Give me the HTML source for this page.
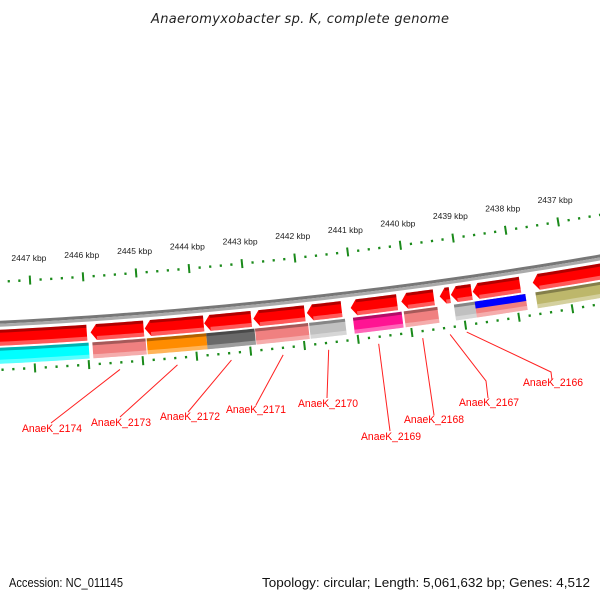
<!DOCTYPE html>
<html><head><meta charset="utf-8"><style>
html,body{margin:0;padding:0;background:#fff;}
svg{display:block;font-family:"Liberation Sans","DejaVu Sans",sans-serif;}
</style></head><body>
<svg id="map" width="600" height="600" viewBox="0 0 600 600" xmlns="http://www.w3.org/2000/svg">
<rect width="600" height="600" fill="#fff"/>
<text x="300" y="23" text-anchor="middle" font-size="13" font-style="italic" fill="#222" textLength="298" lengthAdjust="spacing" font-family="DejaVu Sans, sans-serif">Anaeromyxobacter sp. K, complete genome</text>
<g id="rulers"></g>
<g id="backbone"></g>
<g id="row1"></g>
<g id="row2"></g>
<g id="labels"></g>
<text x="9" y="587" font-size="13" fill="#111" textLength="114" lengthAdjust="spacingAndGlyphs">Accession: NC_011145</text>
<text x="590" y="587" font-size="13" fill="#111" text-anchor="end" textLength="328" lengthAdjust="spacingAndGlyphs">Topology: circular; Length: 5,061,632 bp; Genes: 4,512</text>
</svg>
<script>
// ---- data (kbp) ----
const tickStartKbp = 2448;
const tickEndKbp = 2436;
const tickLabels = ["2447 kbp","2446 kbp","2445 kbp","2444 kbp","2443 kbp","2442 kbp","2441 kbp","2440 kbp","2439 kbp","2438 kbp","2437 kbp"];
const tickLabelKbp = [2447,2446,2445,2444,2443,2442,2441,2440,2439,2438,2437];
const row1Start = [2448.5,2445.93,2444.92,2443.81,2442.89,2441.89,2441.07,2440.12,2439.40,2439.19,2438.78,2437.65];
const row1End   = [2446.00,2444.94,2443.82,2442.93,2441.93,2441.24,2440.20,2439.51,2439.21,2438.80,2437.89,2435.5];
const row1Arrow = [0,1,1,1,1,1,1,1,1,1,1,1];
const row2Start = [2448.5,2445.91,2444.90,2443.79,2442.88,2441.87,2441.05,2440.10,2439.16,2438.77,2437.63];
const row2End   = [2445.98,2444.92,2443.79,2442.89,2441.89,2441.20,2440.14,2439.47,2438.77,2437.82,2435.5];
const row2Color = ["#00ffff","#f08080","#ff8c00","#696969","#f08080","#c0c0c0","#ff1493","#f08080","#c0c0c0","#f08080","#bdb76b"];
const blueStart = [2438.77];
const blueEnd = [2437.82];
const geneNames = ["AnaeK_2174","AnaeK_2173","AnaeK_2172","AnaeK_2171","AnaeK_2170","AnaeK_2169","AnaeK_2168","AnaeK_2167","AnaeK_2166"];
const geneLabelIdx = [1,2,3,4,5,6,7,8,9];

// ---- geometry ----
const NS="http://www.w3.org/2000/svg";
const CX=-252.7, CY=-4711.9, R=5000;
function phi(k){return 0.05657+(2447-k)*0.010632;}
function pt(r,p){return [CX+r*Math.sin(p), CY+r*Math.cos(p)];}
function arcPts(r,p1,p2,n){const a=[];for(let i=0;i<=n;i++){a.push(pt(r,p1+(p2-p1)*i/n));}return a;}
function mk(tag,attrs,parent){const e=document.createElementNS(NS,tag);for(const k in attrs)e.setAttribute(k,attrs[k]);parent.appendChild(e);return e;}
function polyStr(a){return a.map(p=>p[0].toFixed(2)+","+p[1].toFixed(2)).join(" ");}
const HEAD=0.11*0.010632;

function feature(parent,kS,kE,r1,r2,color,arrow,name){
  const pa=phi(kS), pb=phi(kE);
  const ps=arrow?pa+HEAD:pa;
  let pts=arcPts(r1,ps,pb,12).concat(arcPts(r2,pb,ps,12));
  if(arrow)pts.push(pt((r1+r2)/2,pa));
  const g=mk('g',{},parent);
  
  
  mk('polygon',{points:polyStr(pts),fill:color},g);
  const t=arcPts(r1,ps,pb,12).concat(arcPts(r1+3,pb,ps,12));
  mk('polygon',{points:polyStr(t),fill:"#000","fill-opacity":"0.3"},g);
  const b=arcPts(r2-4,ps,pb,12).concat(arcPts(r2,pb,ps,12));
  mk('polygon',{points:polyStr(b),fill:"#fff","fill-opacity":"0.35"},g);
}

// rulers
const rul=document.getElementById('rulers');
[R, R+88].forEach(function(rr){
  for(let k=tickStartKbp*5;k>=tickEndKbp*5;k--){
    const kb=k/5, p=phi(kb), major=(k%5===0);
    const a=pt(rr-(major?4.5:1.2),p), b=pt(rr+(major?4.5:1.2),p);
    const l=mk('line',{x1:a[0],y1:a[1],x2:b[0],y2:b[1],stroke:"#1a8a1a","stroke-width":major?2:2.2},rul);
    
    
  }
});
tickLabels.forEach(function(lbl,i){
  const p=pt(R-19,phi(tickLabelKbp[i]));
  const t=mk('text',{x:p[0],y:p[1],"text-anchor":"middle","font-size":"8.5",fill:"#222"},rul);
  t.textContent=lbl;
  
  
});

// backbone
const bb=document.getElementById('backbone');
const p0=phi(2449), p1=phi(2435);
mk('polyline',{points:polyStr(arcPts(R+40.5,p0,p1,60)),fill:"none",stroke:"#777","stroke-width":3},bb);
mk('polyline',{points:polyStr(arcPts(R+43.5,p0,p1,60)),fill:"none",stroke:"#aaa","stroke-width":3},bb);

// rows
const r1g=document.getElementById('row1');
row1Start.forEach(function(s,i){feature(r1g,s,row1End[i],R+48,R+64,"#ff0000",row1Arrow[i],'gene-arrow');});
const r2g=document.getElementById('row2');
row2Start.forEach(function(s,i){feature(r2g,s,row2End[i],R+66,R+82,row2Color[i],0,'gene-block');});
blueStart.forEach(function(s,i){
  const pa=phi(s),pb=phi(blueEnd[i]);
  const pts=arcPts(R+66,pa,pb,10).concat(arcPts(R+73,pb,pa,10));
  const e=mk('polygon',{points:polyStr(pts),fill:"#0000ff"},r2g);
  
  
});

// labels (label anchor positions are layout)
const lab=document.getElementById('labels');
const labelAnchor=[[51,423,22,432],[120,417,91,426],[188,412,160,420],[256,405,226,413],[327,398,298,407],[390,431,361,440],[434,415,404,423],[488,398,459,406],[552,380,523,386]];
const elbows=[null,null,null,null,null,null,null,[486,381],[551,372]];
geneNames.forEach(function(nm,i){
  const gi=geneLabelIdx[i];
  const mid=(row1Start[gi]+row1End[gi])/2;
  const s=pt(R+95,phi(mid));
  const a=labelAnchor[i];
  let pts=[s];
  if(elbows[i])pts.push(elbows[i]);
  pts.push([a[0],a[1]]);
  const l=mk('polyline',{points:polyStr(pts),fill:"none",stroke:"#ff2020","stroke-width":1},lab);
  
  
  const t=mk('text',{x:a[2],y:a[3],"font-size":"11",fill:"#ff0000",textLength:"60",lengthAdjust:"spacingAndGlyphs"},lab);
  t.textContent=nm;
  
  
});
</script>
</body></html>
